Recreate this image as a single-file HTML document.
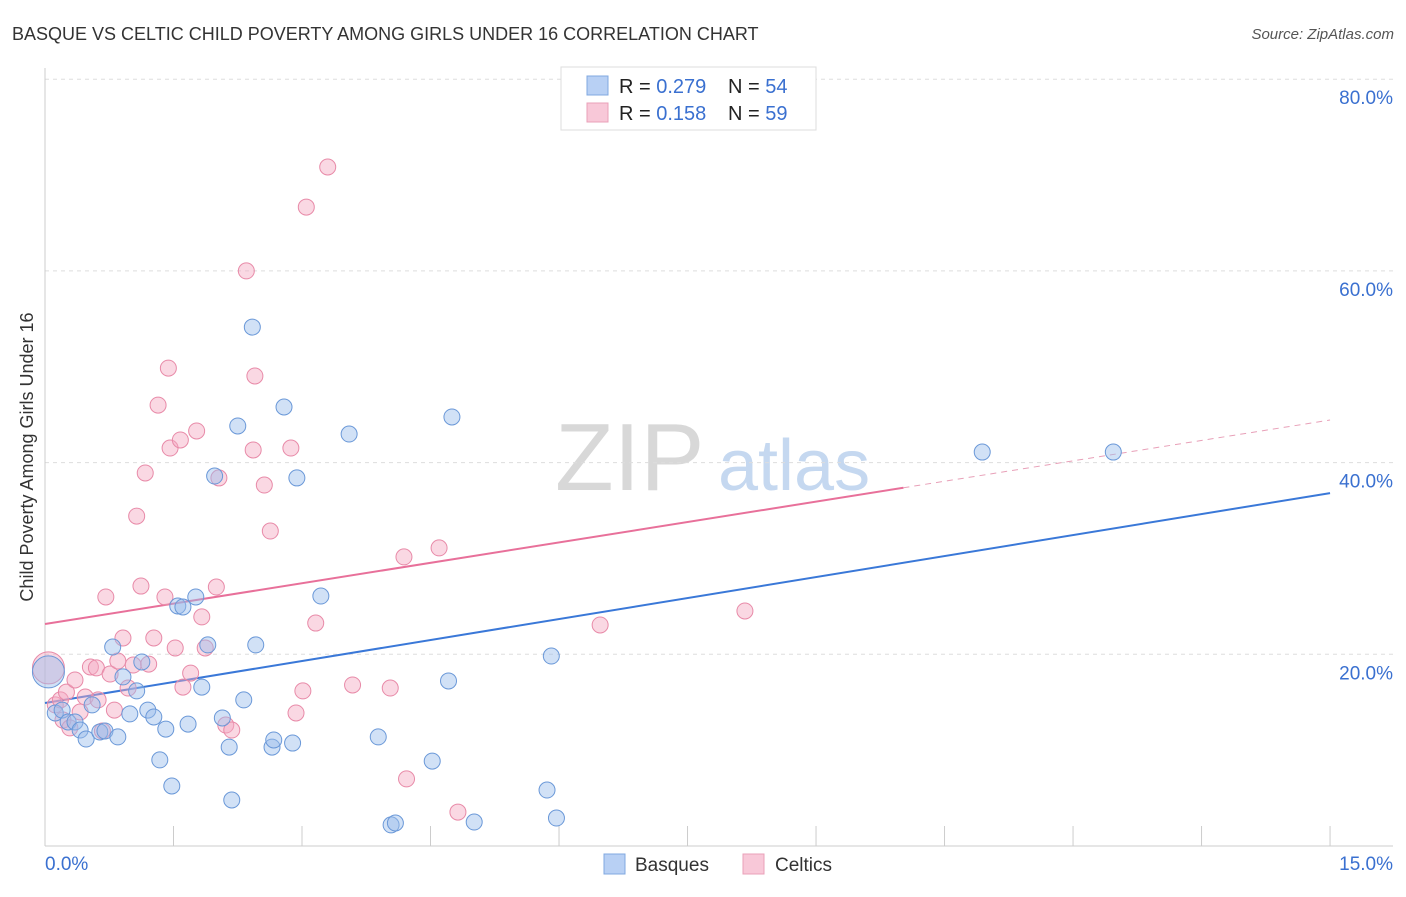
<!DOCTYPE html>
<html><head><meta charset="utf-8"><style>
body{margin:0;background:#fff;font-family:"Liberation Sans",sans-serif;}
svg text{font-family:"Liberation Sans",sans-serif;}
</style></head><body>
<svg id="chart" width="1406" height="892" xmlns="http://www.w3.org/2000/svg">
<text x="12" y="40" font-size="18" fill="#333">BASQUE VS CELTIC CHILD POVERTY AMONG GIRLS UNDER 16 CORRELATION CHART</text>
<text x="1394" y="39" font-size="15" fill="#555" font-style="italic" text-anchor="end">Source: ZipAtlas.com</text>
<text transform="translate(33,457) rotate(-90)" font-size="18" fill="#333" text-anchor="middle">Child Poverty Among Girls Under 16</text>
<g>
<text x="555" y="490" font-size="96" fill="#d8d8d8" font-family="Liberation Serif,serif">ZIP</text>
<text x="718" y="490" font-size="72" fill="#c5d8f0">atlas</text>
</g>
<g id="grid"></g><g id="axes"></g><g id="trends"></g><g id="pts"></g>
<g>
<rect x="561" y="67" width="255" height="63" fill="#fff" stroke="#ddd"/>
<rect x="587" y="76" width="21" height="19" fill="#b8d0f4" stroke="#80a8e0"/>
<rect x="587" y="103" width="21" height="19" fill="#f8c8d8" stroke="#eaa0b8"/>
<text x="619" y="93" font-size="20" fill="#222">R = <tspan fill="#3a70d0">0.279</tspan></text>
<text x="728" y="93" font-size="20" fill="#222">N = <tspan fill="#3a70d0">54</tspan></text>
<text x="619" y="120" font-size="20" fill="#222">R =  <tspan fill="#3a70d0">0.158</tspan></text>
<text x="728" y="120" font-size="20" fill="#222">N = <tspan fill="#3a70d0">59</tspan></text>
</g>
<g>
<rect x="604" y="854" width="21" height="20" fill="#b8d0f4" stroke="#80a8e0"/>
<text x="635" y="871" font-size="19" fill="#333">Basques</text>
<rect x="743" y="854" width="21" height="20" fill="#f8c8d8" stroke="#eaa0b8"/>
<text x="775" y="871" font-size="19" fill="#333">Celtics</text>
</g>
</svg>
<script>
const yTicks=[20,40,60,80];
const yTickLabels=["20.0%","40.0%","60.0%","80.0%"];
const xTickCount=10;
const basqueX=[0.04,0.12,0.2,0.27,0.35,0.41,0.48,0.55,0.64,0.7,0.79,0.85,0.91,0.99,1.07,1.13,1.2,1.27,1.34,1.41,1.48,1.55,1.61,1.67,1.76,1.83,1.9,1.98,2.07,2.15,2.18,2.25,2.32,2.42,2.46,2.65,2.67,2.79,2.89,2.94,3.22,3.55,3.89,4.04,4.09,4.52,4.71,4.75,5.01,5.86,5.91,5.97,10.94,12.47];
const basqueY=[18.16,13.88,14.18,12.94,12.94,12.1,11.16,14.72,11.9,12.0,20.76,11.38,17.64,13.78,16.18,19.2,14.18,13.46,8.98,12.2,6.26,25.04,24.94,12.72,25.98,16.58,20.98,38.6,13.36,10.32,4.8,43.82,15.24,54.14,20.98,10.32,11.06,45.8,10.74,38.4,26.08,42.98,11.38,2.2,2.4,8.86,17.22,44.76,2.5,5.84,19.82,2.92,41.1,41.1];
const celticX=[0.04,0.12,0.18,0.21,0.25,0.29,0.35,0.41,0.47,0.53,0.6,0.62,0.67,0.71,0.76,0.81,0.85,0.91,0.97,1.03,1.07,1.12,1.17,1.21,1.27,1.32,1.4,1.44,1.46,1.52,1.58,1.61,1.7,1.77,1.83,1.87,2.0,2.03,2.11,2.18,2.35,2.43,2.45,2.56,2.63,2.87,2.93,3.01,3.05,3.16,3.3,3.59,4.03,4.19,4.22,4.6,4.82,6.48,8.17];
const celticY=[18.58,14.72,15.24,13.14,16.06,12.32,17.32,13.98,15.54,18.68,18.58,15.24,12.0,25.98,17.94,14.18,19.3,21.7,16.48,18.88,34.42,27.12,38.92,18.98,21.7,46.0,25.98,49.86,41.52,20.66,42.36,16.58,18.04,43.3,23.9,20.66,27.02,38.4,12.62,12.1,60.0,41.32,49.04,37.66,32.86,41.52,13.88,16.18,66.66,23.26,70.84,16.8,16.48,30.16,7.0,31.1,3.54,23.06,24.52];
const basqueTrend=[14.92,36.82];
const celticTrend=[23.16,44.44];
const celticSolidEnd=10.02;
const NS="http://www.w3.org/2000/svg";
const X=v=>45+v*85.67, Y=v=>846-v*9.585;
function mk(t,a,p){const e=document.createElementNS(NS,t);for(const k in a)e.setAttribute(k,a[k]);p.appendChild(e);return e;}
const grid=document.getElementById('grid'),axes=document.getElementById('axes'),tr=document.getElementById('trends'),pts=document.getElementById('pts');
yTicks.forEach((v,i)=>{
 const l=mk('line',{x1:45,x2:1393,y1:Y(v),y2:Y(v),stroke:'#ddd','stroke-dasharray':'4,4'},grid);
 
 
 const t=mk('text',{x:1393,y:Y(v)+25,'font-size':19,fill:'#3a70d0','text-anchor':'end'},grid);t.textContent=yTickLabels[i];
 
 
});
let ax=mk('line',{x1:45,x2:45,y1:68,y2:846,stroke:'#ccc'},axes);


ax=mk('line',{x1:45,x2:1393,y1:846,y2:846,stroke:'#ccc'},axes);


for(let i=0;i<=xTickCount;i++){const x=X(i*1.5);const t=mk('line',{x1:x,x2:x,y1:826,y2:846,stroke:'#ccc'},axes);
 
 }
let t=mk('text',{x:45,y:870,'font-size':19,fill:'#3a70d0'},axes);t.textContent='0.0%';


t=mk('text',{x:1393,y:870,'font-size':19,fill:'#3a70d0','text-anchor':'end'},axes);t.textContent='15.0%';


function dots(xs,ys,fill,stroke,name){xs.forEach((x,i)=>{const c=mk('circle',{cx:X(x),cy:Y(ys[i]),r:i===0?16:8,fill:fill,'fill-opacity':0.45,stroke:stroke,'stroke-width':1},pts);
 
 });}
dots(celticX,celticY,'#f4a8c0','#e88aa8','celtic-point');
dots(basqueX,basqueY,'#98bcec','#6a98d8','basque-point');
let l=mk('line',{x1:X(0),y1:Y(basqueTrend[0]),x2:X(15),y2:Y(basqueTrend[1]),stroke:'#3a78d8','stroke-width':2},tr);


const cy=v=>celticTrend[0]+(celticTrend[1]-celticTrend[0])*v/15;
l=mk('line',{x1:X(0),y1:Y(cy(0)),x2:X(celticSolidEnd),y2:Y(cy(celticSolidEnd)),stroke:'#e8709a','stroke-width':2},tr);


l=mk('line',{x1:X(celticSolidEnd),y1:Y(cy(celticSolidEnd)),x2:X(15),y2:Y(cy(15)),stroke:'#e8a0b8','stroke-width':1,'stroke-dasharray':'6,5'},tr);


</script>
</body></html>
